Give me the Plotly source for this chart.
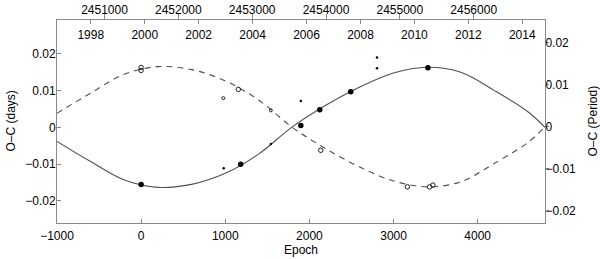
import plotly.graph_objects as go

# ---- data ----
# fitted O-C curve (left axis, days)
curve_epoch = [-1000, -600, -200, 200, 600, 1000, 1400, 1800, 2200, 2600, 3000, 3400, 3800, 4200, 4600, 4800]
curve_days = [-0.0038, -0.0093, -0.0143, -0.0163, -0.0155, -0.0125, -0.0072, 0.0002, 0.0061, 0.0110,
              0.0148, 0.01635, 0.0150, 0.0100, 0.0042, 0.0000]
# mirrored curve (right axis, period units)
curve_period = [0.0032, 0.0080, 0.0125, 0.0143, 0.0136, 0.0109, 0.0063, -0.0002, -0.0053, -0.0096,
                -0.0129, -0.0143, -0.0131, -0.0087, -0.0037, 0.0000]

# filled points (left axis, days)
big_epoch = [0, 1183, 1898, 2123, 2491, 3408]
big_days = [-0.0155, -0.0100, 0.0005, 0.0048, 0.0097, 0.0162]
dot_epoch = [981, 1542, 1898, 2803, 2803]
dot_days = [-0.0111, -0.0045, 0.0072, 0.0190, 0.0161]

# open points (right axis, period units)
open_epoch = [0, 0, 1155, 2135, 3164, 3428, 3468]
open_period = [0.0141, 0.0134, 0.0089, -0.0056, -0.0143, -0.0143, -0.0139]
smallopen_epoch = [977, 1542]
smallopen_period = [0.0068, 0.0039]

# axis ticks
epoch_ticks = [-1000, 0, 1000, 2000, 3000, 4000]
jd_ticks = [2451000, 2452000, 2453000, 2454000, 2455000, 2456000]
year_ticks = [1998, 2000, 2002, 2004, 2006, 2008, 2010, 2012, 2014]

# ephemeris used for the top axes
T0 = 2451496.0
P = 1.1395
EPOCH_RANGE = [-1000, 4800]
jd_range = [T0 + P * e for e in EPOCH_RANGE]
yr_range = [2000 + (j - 2451544.5) / 365.25 for j in jd_range]

FONT = "Liberation Sans, Arial, Helvetica, sans-serif"
AX = "#8a8a8a"
LINE = "#505050"
PT = "#222"

W, H = 600, 259
ML, MR, MT, MB = 57, 55, 20, 36
PW, PH = W - ML - MR, H - MT - MB

fig = go.Figure()
fig.add_trace(go.Scatter(x=curve_epoch, y=curve_days, mode="lines",
                         line=dict(color=LINE, width=1.1, shape="spline", smoothing=1.0),
                         xaxis="x", yaxis="y"))
fig.add_trace(go.Scatter(x=curve_epoch, y=curve_period, mode="lines",
                         line=dict(color=LINE, width=1.1, dash="6px,5px", shape="spline", smoothing=1.0),
                         xaxis="x", yaxis="y2"))
fig.add_trace(go.Scatter(x=dot_epoch, y=dot_days, mode="markers",
                         marker=dict(color="black", size=2.5), xaxis="x", yaxis="y"))
fig.add_trace(go.Scatter(x=big_epoch, y=big_days, mode="markers",
                         marker=dict(color="black", size=5.5), xaxis="x", yaxis="y"))
fig.add_trace(go.Scatter(x=open_epoch, y=open_period, mode="markers",
                         marker=dict(color=PT, size=4.5, symbol="circle-open",
                                     line=dict(color=PT, width=1)), xaxis="x", yaxis="y2"))
fig.add_trace(go.Scatter(x=smallopen_epoch, y=smallopen_period, mode="markers",
                         marker=dict(size=3, symbol="circle-open", color=PT,
                                     line=dict(color=PT, width=1)), xaxis="x", yaxis="y2"))
# invisible anchors for the top axes
fig.add_trace(go.Scatter(x=jd_range, y=[0, 0], mode="lines", line=dict(width=0),
                         hoverinfo="skip", xaxis="x2", yaxis="y"))
fig.add_trace(go.Scatter(x=yr_range, y=[0, 0], mode="lines", line=dict(width=0),
                         hoverinfo="skip", xaxis="x3", yaxis="y"))

tickfont = dict(family=FONT, size=12, color="black")
common = dict(showgrid=False, zeroline=False, tickfont=tickfont, tickcolor=AX, automargin=False)
fig.update_layout(
    width=W, height=H,
    margin=dict(l=ML, r=MR, t=MT, b=MB),
    paper_bgcolor="white", plot_bgcolor="white",
    showlegend=False,
    font=dict(family=FONT, size=12, color="black"),
    xaxis=dict(range=EPOCH_RANGE, tickvals=epoch_ticks, ticks="inside", ticklen=4,
               ticklabelstandoff=2,
               showline=True, linecolor=AX, linewidth=1, **common),
    xaxis2=dict(range=jd_range, overlaying="x", side="top", anchor="y", tickvals=jd_ticks,
                tickformat="d", ticks="outside", ticklen=5, ticklabelstandoff=-5, showline=True,
                linecolor=AX, linewidth=1, **common),
    xaxis3=dict(range=yr_range, overlaying="x", side="top", anchor="y", tickvals=year_ticks,
                tickformat="d", ticks="inside", ticklen=4, showline=False,
                ticklabelposition="inside", ticklabelstandoff=6, **common),
    yaxis=dict(range=[-0.026, 0.0292], tickvals=[-0.02, -0.01, 0, 0.01, 0.02], ticks="inside",
               ticklen=4, ticklabelstandoff=-2,
               showline=True, linecolor=AX, linewidth=1, **common),
    yaxis2=dict(range=[-0.0229, 0.0254], overlaying="y", side="right", anchor="x",
                tickvals=[-0.02, -0.01, 0, 0.01, 0.02], ticks="outside", ticklen=3,
                ticklabelstandoff=-6,
                showline=True, linecolor=AX, linewidth=1, **common),
    annotations=[
        dict(text="Epoch", x=0.5, y=(H - MB - 249.5) / PH, xref="paper", yref="paper",
             showarrow=False, font=tickfont, xanchor="center", yanchor="middle"),
        dict(text="O–C (days)", x=(10 - ML) / PW, y=0.5, xref="paper", yref="paper",
             showarrow=False, font=tickfont, textangle=-90, xanchor="center", yanchor="middle"),
        dict(text="O–C (Period)", x=(592 - ML) / PW, y=0.5, xref="paper", yref="paper",
             showarrow=False, font=tickfont, textangle=-90, xanchor="center", yanchor="middle"),
    ],
)
# the page's default 8px body margin would push the 600x259 figure out of the window
fig.write_html("out.html", config={"displayModeBar": False},
               post_script="document.body.style.margin='0px';")
